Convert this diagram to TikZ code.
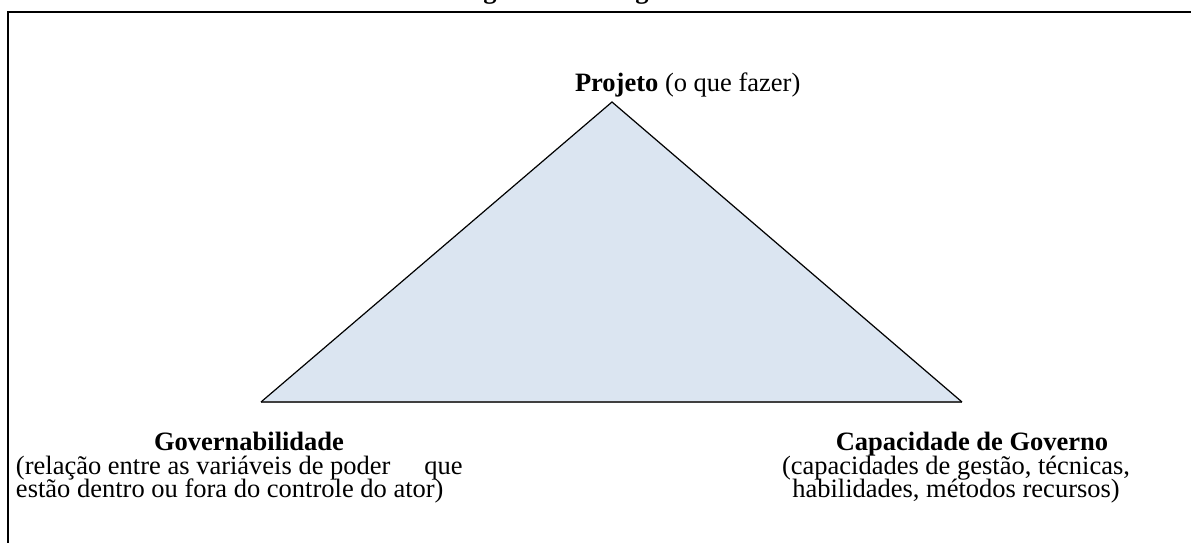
\documentclass[tikz,border=0pt]{standalone}
\usepackage{fontspec}
\setmainfont{Liberation Serif}
\definecolor{trifill}{HTML}{DBE5F1}
\definecolor{basegray}{HTML}{404040}
\begin{document}
\begin{tikzpicture}[x=0.5pt,y=-0.5pt,
  lbl/.style={inner sep=0pt,outer sep=0pt,font=\fontsize{13.25pt}{12pt}\selectfont},
  ttl/.style={lbl,font=\fontsize{13.25pt}{12pt}\selectfont\bfseries},
  frame/.style={line width=1pt,black},
  edge/.style={line width=0.6pt,black},
  baseedge/.style={line width=1pt,basegray}]
\useasboundingbox (0,0) rectangle (1191,542);
\clip (0,0) rectangle (1191,542);
% cut-off caption descenders at the top
\node[ttl,anchor=base] (g1) at (490,-2) {g};
\node[ttl,anchor=base] (g2) at (642,-2) {g};
% frame
\draw[frame] (8,560) -- (8,12) -- (1210,12);
% triangle
\coordinate (top) at (612,102);
\coordinate (bl) at (261,402);
\coordinate (br) at (962,402);
\fill[trifill] (top) -- (bl) -- (br) -- cycle;
\draw[baseedge] (bl) -- (br);
\draw[edge,line join=miter] (bl) -- (top) -- (br);
% labels
\node[lbl,anchor=base west] (proj) at (575,91) {\textbf{Projeto} (o que fazer)};
\node[ttl,anchor=base] (gov) at (249,450) {Governabilidade};
\node[lbl,anchor=base west] (govd1) at (16,474)
  {(relação entre as variáveis de poder \hspace{1.03em}que};
\node[lbl,anchor=base west] (govd2) at (16,497)
  {estão dentro ou fora do controle do ator)};
\node[ttl,anchor=base] (cap) at (972,450) {Capacidade de Governo};
\node[lbl,anchor=base] (capd1) at (956,474)
  {(capacidades de gestão, técnicas,};
\node[lbl,anchor=base] (capd2) at (956,497)
  {habilidades, métodos recursos)};
\end{tikzpicture}
\end{document}
